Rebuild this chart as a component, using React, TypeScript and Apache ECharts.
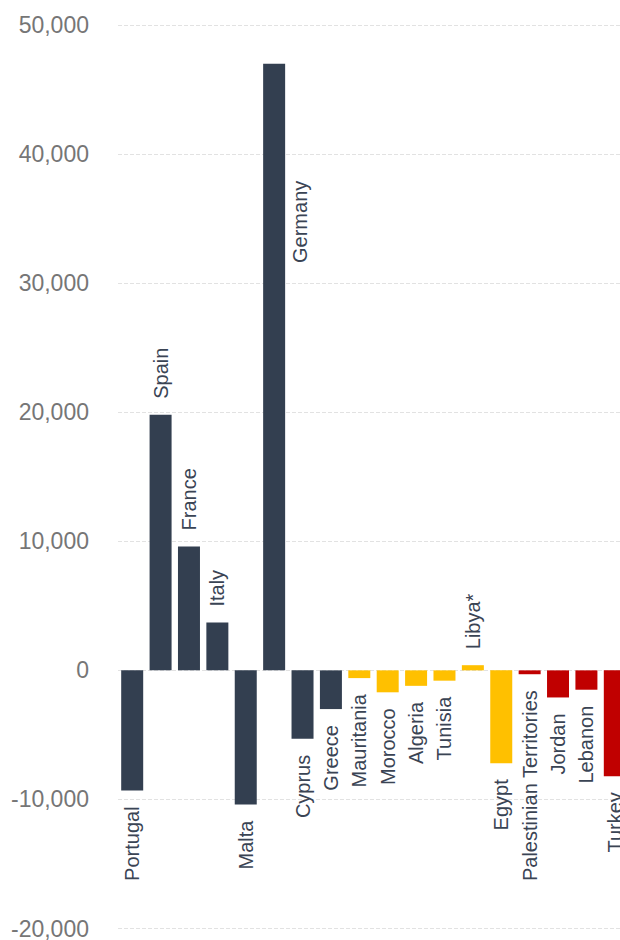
import React, { useEffect, useRef } from "react";
import * as echarts from "echarts";

const categories = [
  "Portugal", "Spain", "France", "Italy", "Malta", "Germany", "Cyprus", "Greece",
  "Mauritania", "Morocco", "Algeria", "Tunisia", "Libya*", "Egypt",
  "Palestinian Territories", "Jordan", "Lebanon", "Turkey",
];
const values = [
  -9300, 19800, 9600, 3700, -10400, 47000, -5300, -3000,
  -600, -1700, -1200, -800, 400, -7200,
  -300, -2100, -1500, -8200,
];
const groups = [
  "eu", "eu", "eu", "eu", "eu", "eu", "eu", "eu",
  "maghreb", "maghreb", "maghreb", "maghreb", "maghreb", "maghreb",
  "mashreq", "mashreq", "mashreq", "mashreq",
];
const yTicks = [-20000, -10000, 0, 10000, 20000, 30000, 40000, 50000];

const groupColors: Record<string, string> = {
  eu: "#333f50",
  maghreb: "#ffc000",
  mashreq: "#c00000",
};

export default function App() {
  const ref = useRef<HTMLDivElement>(null);
  useEffect(() => {
    if (!ref.current) return;
    const chart = echarts.init(ref.current, null, { renderer: "svg" });
    const labelBase = {
      show: true,
      rotate: 90,
      fontSize: 20,
      fontFamily: "Liberation Sans, Arial, sans-serif",
      color: "#3a4454",
      verticalAlign: "middle",
      formatter: "{b}",
    };
    const data = values.map((v, i) => {
      let label: any;
      if (categories[i] === "Germany") {
        label = { ...labelBase, position: [37, 117], align: "right" };
      } else if (v >= 0) {
        label = { ...labelBase, position: "top", distance: 16, align: "left" };
      } else {
        label = { ...labelBase, position: "bottom", distance: 16, align: "right" };
      }
      return {
        value: v,
        itemStyle: { color: groupColors[groups[i]] },
        label,
      };
    });
    chart.setOption({
      animation: false,
      grid: { left: 118, right: 0, top: 25, bottom: 8, containLabel: false },
      xAxis: {
        type: "category",
        data: categories,
        axisLine: { show: false },
        axisTick: { show: false },
        axisLabel: { show: false },
        splitLine: { show: false },
      },
      yAxis: {
        type: "value",
        min: yTicks[0],
        max: yTicks[yTicks.length - 1],
        interval: 10000,
        axisLine: { show: false },
        axisTick: { show: false },
        axisLabel: {
          margin: 29,
          fontSize: 23,
          color: "#767676",
          fontFamily: "Liberation Sans, Arial, sans-serif",
          formatter: (v: number) => v.toLocaleString("en-US"),
        },
        splitLine: { lineStyle: { color: "#e2e2e2", type: "dashed", width: 1 } },
      },
      series: [
        {
          type: "bar",
          data,
          barWidth: 22,
        },
      ],
    });
    return () => chart.dispose();
  }, []);
  return (
    <div style={{ position: "absolute", left: 0, top: 0, width: 620, height: 940, overflow: "hidden" }}>
      <div ref={ref} style={{ width: 629, height: 940 }} />
    </div>
  );
}
